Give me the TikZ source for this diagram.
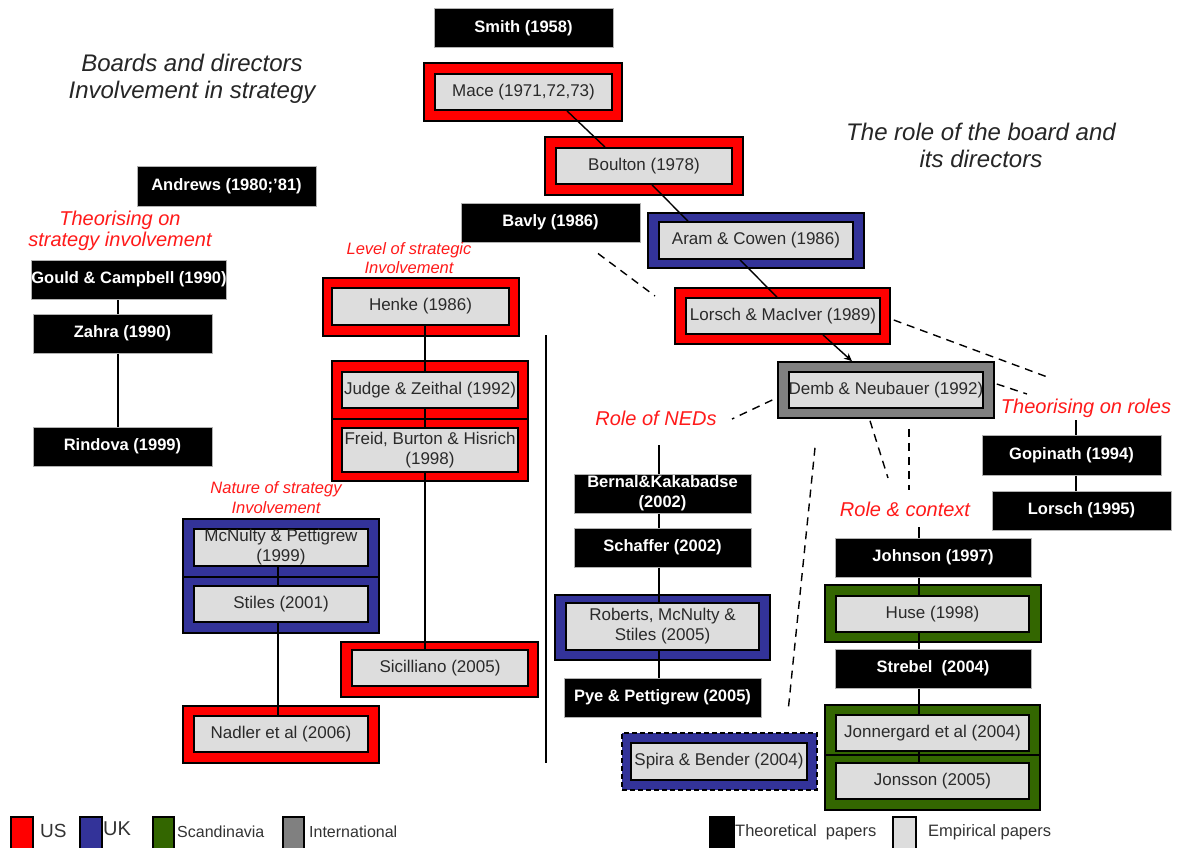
\documentclass[tikz,border=0pt]{standalone}
\usepackage{fontspec}
\setmainfont{Liberation Sans}
\usetikzlibrary{arrows.meta}
\definecolor{usred}{HTML}{FF0000}
\definecolor{ukblue}{HTML}{333399}
\definecolor{scgreen}{HTML}{336600}
\definecolor{intgray}{HTML}{808080}
\definecolor{empfill}{HTML}{DDDDDD}
\definecolor{emptext}{HTML}{2A2A2A}
\definecolor{labred}{HTML}{FF1A1A}

\tikzset{
  wh/.style 2 args={minimum width=#1,minimum height=#2},
  box/.style={rectangle, inner sep=0pt, align=center},
  theo/.style={box, fill=black, draw=gray!60, line width=1pt, text=white,
    font=\bfseries\fontsize{16.5}{20}\selectfont},
  emp/.style={box, fill=empfill, draw=black, line width=1.8pt, text=emptext,
    font=\fontsize{17}{20}\selectfont},
  rim/.style={box, draw=black, line width=1.5pt, fill=#1},
  link/.style={draw=black, line width=1.4pt},
  dashlink/.style={draw=black, line width=1.4pt, dash pattern=on 8pt off 6pt},
  biglabel/.style={text=labred, font=\itshape\fontsize{20}{21}\selectfont,
    align=center, inner sep=0pt},
  smalllabel/.style={text=labred, font=\itshape\fontsize{16.5}{19.5}\selectfont,
    align=center, inner sep=0pt},
  heading/.style={text=black!85, font=\itshape\fontsize{24}{27}\selectfont,
    align=center, inner sep=0pt},
  swatch/.style={rectangle, draw=black, line width=1.5pt, fill=#1, inner sep=0pt,
    minimum height=40, anchor=north west},
  legendtext/.style={anchor=west, inner sep=0pt, text=black!80}
}

\begin{document}
\begin{tikzpicture}[x=1pt,y=-1pt]
\fill[white] (0,0) rectangle (1184,848);
\useasboundingbox (0,0) rectangle (1184,848);

% headings
\node[heading] (ttlLeft) at (192,79) {Boards and directors\\Involvement in strategy};
\node[heading] (ttlRight) at (981,145) {The role of the board and\\its directors};

% coloured frames (country of the study)
\node[rim=usred, wh={198}{58}] (maceO) at (523,92) {};
\node[rim=usred, wh={198}{58}] (boultonO) at (644,166) {};
\node[rim=ukblue, wh={216}{55}] (aramO) at (756,240.5) {};
\node[rim=usred, wh={215}{56}] (lorschO) at (782.5,316) {};
\node[rim=intgray, wh={216}{56}] (dembO) at (886,390) {};
\node[rim=usred, wh={196}{58}] (henkeO) at (421,307) {};
\node[rim=usred, wh={196}{58}] (judgeO) at (430,390) {};
\node[rim=usred, wh={196}{62}] (freidO) at (430,450) {};
\node[rim=ukblue, wh={196}{58}] (mcnultyO) at (281,548) {};
\node[rim=ukblue, wh={196}{56}] (stilesO) at (281,605) {};
\node[rim=usred, wh={196}{57}] (nadlerO) at (281,734.5) {};
\node[rim=usred, wh={197}{55}] (sicilO) at (439.5,669.5) {};
\node[rim=ukblue, wh={215}{65}] (robertsO) at (662.5,627.5) {};
\node[rim=ukblue, wh={195}{57}, dash pattern=on 5pt off 3pt] (spiraO) at (719.5,761.5) {};
\node[rim=scgreen, wh={216}{57}] (huseO) at (933,613.5) {};
\node[rim=scgreen, wh={215}{50}] (jonnerO) at (932.5,730) {};
\node[rim=scgreen, wh={215}{55}] (jonssonO) at (932.5,782.5) {};

% theoretical papers
\node[theo, wh={179}{39}] (smith) at (523.5,28.5) {Smith (1958)};
\node[theo, wh={179}{39}] (bavly) at (550.5,222.5) {Bavly (1986)};
\node[theo, wh={179}{39}] (andrews) at (226.5,186.5) {Andrews (1980;'81)};
\node[theo, wh={192}{39}] (gould) at (129,279.5) {Gould \& Campbell (1990)};
\node[theo, wh={179}{39}] (zahra) at (122.5,333.5) {Zahra (1990)};
\node[theo, wh={179}{39}] (rindova) at (122.5,446.5) {Rindova (1999)};
\node[theo, wh={177}{39}] (bernal) at (662.5,493.5) {Bernal\&Kakabadse\\(2002)};
\node[theo, wh={177}{39}] (schaffer) at (662.5,547.5) {Schaffer (2002)};
\node[theo, wh={197}{39}] (pye) at (662.5,697.5) {Pye \& Pettigrew (2005)};
\node[theo, wh={196}{39}] (johnson) at (933,557.5) {Johnson (1997)};
\node[theo, wh={196}{39}] (strebel) at (933,668.5) {Strebel\ \ (2004)};
\node[theo, wh={179}{40}] (gopinath) at (1071.5,455) {Gopinath (1994)};
\node[theo, wh={179}{39}] (lorsch95) at (1081.5,510.5) {Lorsch (1995)};

% empirical papers
\node[emp, wh={177}{36}] (mace) at (523.5,92) {Mace (1971,72,73)};
\node[emp, wh={176}{36}] (boulton) at (644,166) {Boulton (1978)};
\node[emp, wh={194}{37}] (aram) at (756,240.5) {Aram \& Cowen (1986)};
\node[emp, wh={194}{36}] (lorsch) at (783,316) {Lorsch \& MacIver (1989)};
\node[emp, wh={194}{36}] (demb) at (886,390) {Demb \& Neubauer (1992)};
\node[emp, wh={177}{37}] (henke) at (420.5,306.5) {Henke (1986)};
\node[emp, wh={176}{36}] (judge) at (430,390) {Judge \& Zeithal (1992)};
\node[emp, wh={176}{44}] (freid) at (430,450) {Freid, Burton \& Hisrich\\(1998)};
\node[emp, wh={174}{37}] (mcnulty) at (281,547.5) {McNulty \& Pettigrew\\(1999)};
\node[emp, wh={174}{36}] (stiles) at (281,604) {Stiles (2001)};
\node[emp, wh={174}{36}] (nadler) at (281,734) {Nadler et al (2006)};
\node[emp, wh={176}{36}] (sicil) at (440,668) {Sicilliano (2005)};
\node[emp, wh={193}{47}] (roberts) at (662.5,626.5) {Roberts, McNulty \&\\Stiles (2005)};
\node[emp, wh={176}{37}] (spira) at (719,761.5) {Spira \& Bender (2004)};
\node[emp, wh={193}{36}] (huse) at (932.5,614) {Huse (1998)};
\node[emp, wh={193}{36}] (jonner) at (932.5,733) {Jonnergard et al (2004)};
\node[emp, wh={193}{36}] (jonsson) at (932.5,781) {Jonsson (2005)};

% theme labels
\node[biglabel] (lblTheoStrat) at (120,231) {Theorising on\\strategy involvement};
\node[smalllabel] (lblLevel) at (409,258) {Level of strategic\\Involvement};
\node[smalllabel] (lblNature) at (276,497.5) {Nature of strategy\\Involvement};
\node[biglabel] (lblNeds) at (656,418) {Role of NEDs};
\node[biglabel] (lblContext) at (905,509) {Role \& context};
\node[biglabel] (lblRoles) at (1086,408) {Theorising on roles};

% free ends of connectors
\coordinate (sepTop) at (546,335);
\coordinate (sepBot) at (546,763);
\coordinate (nedsStem) at (659,445);
\coordinate (ctxStem) at (919,527);
\coordinate (rolesStem) at (1076,420);
\coordinate (bavlyEnd) at (655,296);
\coordinate (rolesEnd) at (1050,378);
\coordinate (nedsEnd) at (732,419);
\coordinate (dembRightEnd) at (1027,394);
\coordinate (ctxEndA) at (888,478);
\coordinate (ctxEndB) at (909,490);
\coordinate (spiraEnd) at (788,712);

% column divider
\draw[link] (sepTop) -- (sepBot);

% left: theorising chain
\draw[link] ([xshift=-4.5]zahra.north) -- ([xshift=-4.5]zahra.north |- gould.south);
\draw[link] ([xshift=-4.5]zahra.south) -- ([xshift=-4.5]rindova.north);

% level of involvement chain
\draw[link] ([xshift=-5]judge.north) -- ([xshift=-5]judge.north |- henke.south);
\draw[link] ([xshift=-5]judge.south) -- ([xshift=-5]freid.north);
\draw[link] ([xshift=-5]freid.south) -- ([xshift=-5]freid.south |- sicil.north);

% nature of involvement chain
\draw[link] ([xshift=-3]mcnulty.south) -- ([xshift=-3]stiles.north);
\draw[link] ([xshift=-3]stiles.south) -- ([xshift=-3]nadler.north);

% role of NEDs chain
\draw[link] (nedsStem) -- (nedsStem |- bernal.north);
\draw[link] ([xshift=-3.5]bernal.south) -- ([xshift=-3.5]schaffer.north);
\draw[link] ([xshift=-3.5]schaffer.south) -- ([xshift=-3.5]roberts.north);
\draw[link] ([xshift=-3.5]roberts.south) -- ([xshift=-3.5]pye.north);

% role and context chain
\draw[link] (ctxStem) -- (ctxStem |- johnson.north);
\draw[link] ([xshift=-14]johnson.south) -- ([xshift=-13.5]huse.north);
\draw[link] ([xshift=-13.5]huse.south) -- ([xshift=-14]strebel.north);
\draw[link] ([xshift=-14]strebel.south) -- ([xshift=-13.5]jonner.north);
\draw[link] ([xshift=-13.5]jonner.south) -- ([xshift=-13.5]jonsson.north);

% theorising on roles chain
\draw[link] (rolesStem) -- (rolesStem |- gopinath.north);
\draw[link] ([xshift=4.5]gopinath.south) -- ([xshift=-5.5]lorsch95.north);

% role of the board main line
\draw[link] ([xshift=43.5]mace.south) -- ([xshift=-39]boulton.north);
\draw[link] ([xshift=8]boulton.south) -- ([xshift=-68]aram.north);
\draw[link] ([xshift=-16]aram.south) -- ([xshift=-6]lorsch.north);
\draw[link, -{Stealth[length=8pt,width=7pt]}] ([xshift=40]lorsch.south) -- ([xshift=-34]dembO.north);

% dashed influences
\draw[dashlink] ([shift={(47.5,11)}]bavly.south) -- (bavlyEnd);
\draw[dashlink] ([shift={(3,4)}]lorschO.east) -- (rolesEnd);
\draw[dashlink] ([shift={(-5,10)}]dembO.west) -- (nedsEnd);
\draw[dashlink] ([shift={(2,-6)}]dembO.east) -- (dembRightEnd);
\draw[dashlink] ([shift={(-16,2)}]dembO.south) -- (ctxEndA);
\draw[dashlink] ([shift={(23,10)}]dembO.south) -- (ctxEndB);
\draw[dashlink] ([shift={(-71,29)}]dembO.south) -- (spiraEnd);

% legend
\node[swatch=usred, minimum width=22] (keyUS) at (10,816) {};
\node[legendtext, font=\fontsize{19}{22}\selectfont] (txtUS) at (40,831) {US};
\node[swatch=ukblue, minimum width=22] (keyUK) at (79,816) {};
\node[legendtext, font=\fontsize{20}{22}\selectfont] (txtUK) at (103,829) {UK};
\node[swatch=scgreen, minimum width=21] (keySc) at (152,816) {};
\node[legendtext, font=\fontsize{16}{19}\selectfont] (txtSc) at (177,832) {Scandinavia};
\node[swatch=intgray, minimum width=21] (keyInt) at (282,816) {};
\node[legendtext, font=\fontsize{16}{19}\selectfont] (txtInt) at (309,832) {International};
\node[swatch=black, minimum width=24] (keyTheo) at (709,816) {};
\node[legendtext, font=\fontsize{16.5}{19}\selectfont] (txtTheo) at (735,832) {Theoretical\ \ papers};
\node[swatch=empfill, minimum width=23] (keyEmp) at (892,816) {};
\node[legendtext, font=\fontsize{16.5}{19}\selectfont] (txtEmp) at (928,832) {Empirical papers};
\end{tikzpicture}
\end{document}
